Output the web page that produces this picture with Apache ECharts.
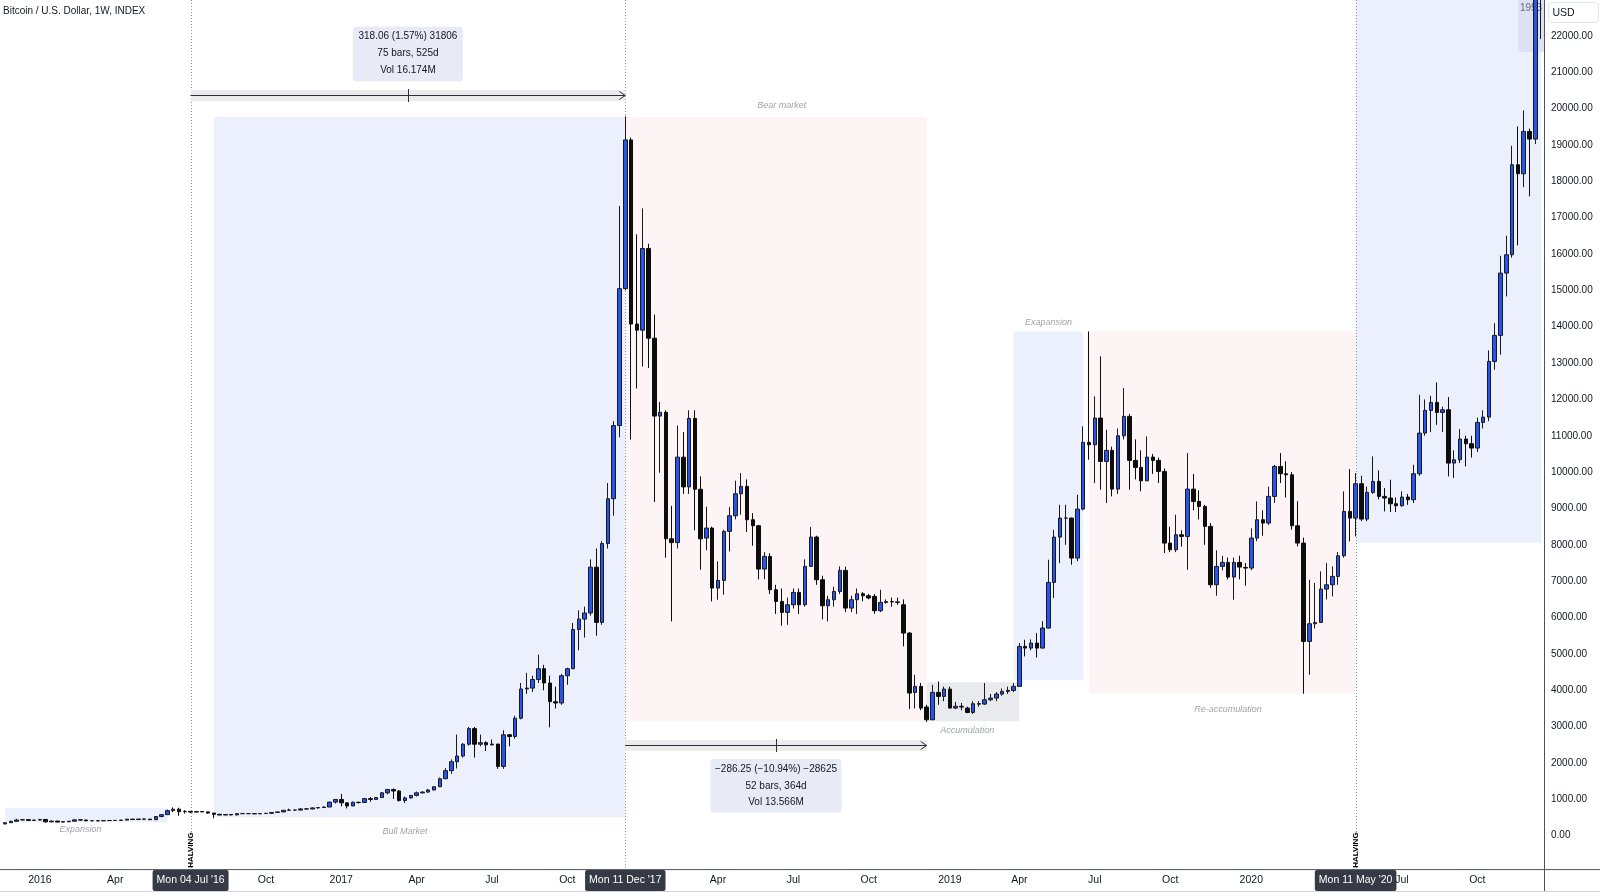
<!DOCTYPE html>
<html><head><meta charset="utf-8">
<script src="https://cdn.jsdelivr.net/npm/echarts@6/dist/echarts.min.js"></script>
<style>html,body{margin:0;padding:0;background:#fff}#c{width:1600px;height:892px}</style>
</head><body><div id="c"></div>
<script>
// ---- DATA: weekly candles [open, close, low, high], first week Mon 23 Nov 2015 ----
const firstWeek = '2015-11-23';
const ohlc2015 = [[324,358,316,366],[358,395,355,418],[395,434,390,465],[434,442,427,466],[442,422,415,457],[422,431,418,437]];
const ohlc2016 = [[431,448,425,458],[448,382,360,450],[382,402,370,420],[402,376,365,412],[376,386,365,392],[386,400,370,405],[400,437,398,441],[437,432,410,439],[432,412,400,440],[412,412,405,420],[412,410,407,418],[410,416,405,420],[416,420,410,425],[420,422,415,425],[422,430,420,433],[430,456,428,460],[456,446,440,466],[446,459,441,462],[459,457,445,462],[457,441,437,458],[441,528,440,535],[528,580,510,590],[580,690,570,720],[690,730,650,780],[730,660,550,770],[660,670,610,705],[670,650,620,680],[650,665,640,680],[665,655,650,678],[655,624,600,660],[624,590,480,626],[590,570,565,600],[570,583,565,590],[583,573,565,585],[573,608,568,612],[608,608,600,627],[608,609,600,612],[609,603,592,611],[603,610,600,614],[610,617,605,620],[617,640,615,645],[640,655,628,660],[655,700,650,705],[700,705,690,745],[705,705,700,718],[705,738,700,760],[738,736,726,746],[736,765,730,780],[765,775,750,782],[775,790,770,800],[790,925,790,935],[925,998,885,1000]];
const ohlc2017 = [[998,905,810,1150],[905,820,750,910],[820,920,815,940],[920,915,880,930],[915,1020,915,1040],[1020,1000,935,1065],[1000,1050,990,1065],[1050,1180,1050,1200],[1180,1270,1140,1290],[1270,1230,1010,1300],[1230,970,940,1260],[970,1040,900,1080],[1040,1110,1020,1120],[1110,1180,1080,1215],[1180,1200,1160,1220],[1200,1257,1190,1290],[1257,1348,1250,1360],[1348,1568,1340,1600],[1568,1790,1560,1860],[1790,2035,1700,2100],[2035,2192,1850,2780],[2192,2517,2150,2550],[2517,2946,2480,2990],[2946,2517,2150,2990],[2517,2560,2460,2780],[2560,2500,2330,2600],[2500,2520,2480,2650],[2520,1907,1840,2530],[1907,2776,1840,2900],[2776,2730,2460,2800],[2730,3231,2670,3300],[3231,4036,3200,4200],[4036,4060,3900,4480],[4060,4296,3950,4400],[4296,4594,4200,4980],[4594,4200,4000,4700],[4200,3686,2980,4400],[3686,3650,3500,4100],[3650,4400,3600,4450],[4400,4594,4150,4620],[4594,5672,4580,5850],[5672,5958,5100,6200],[5958,6126,5450,6300],[6126,7386,6050,7600],[7386,5867,5500,7900],[5867,8035,5800,8100],[8035,9269,7900,9700],[9269,11281,8800,11400],[11281,15046,10957,17319],[15046,19136,15000,19786],[19136,14072,10892,19200],[14072,13904,12300,16540]];
const ohlc2018 = [[13904,16150,12904,17253],[16150,13683,12865,16280],[13683,11541,9178,14332],[11541,11645,9983,11930],[11645,8165,7645,11700],[8165,8061,5893,9074],[8061,10411,7900,11281],[10411,9593,9400,11100],[9593,11476,9400,11700],[11476,9528,8400,11700],[9528,8165,7315,9882],[8186,8461,7850,9050],[8461,6811,6444,8500],[6811,7022,6490,7544],[7022,8369,6628,8415],[8369,8800,7819,9038],[8800,9405,8700,9763],[9405,9607,8827,9973],[9607,8690,8350,9800],[8690,8525,7975,8873],[8525,7333,7050,8550],[7333,7682,7050,7800],[7682,6765,6650,7770],[6765,6444,6100,6900],[6444,6142,5775,6800],[6142,6352,5800,6550],[6352,6692,6250,6800],[6692,6352,6100,6800],[6352,7407,6300,7600],[7407,8213,7400,8488],[8213,7040,6900,8250],[7040,6325,5950,7150],[6325,6490,5894,6600],[6490,6719,6300,6850],[6719,7297,6650,7407],[7297,6261,6150,7400],[6261,6490,6150,6600],[6490,6655,6100,6800],[6655,6600,6450,6700],[6600,6540,6500,6650],[6582,6187,6100,6650],[6187,6417,6150,6765],[6417,6440,6380,6500],[6440,6430,6300,6550],[6430,6417,6350,6550],[6352,5573,5207,6500],[5573,3923,3483,5600],[3942,4107,3500,4427],[4107,3511,3450,4200],[3538,3190,3130,3600],[3190,3942,3180,4152],[3942,3832,3600,4244]];
const ohlc2019 = [[3832,4033,3700,4100],[4033,3511,3500,4100],[3511,3560,3480,3680],[3560,3540,3450,3650],[3511,3391,3370,3550],[3391,3630,3350,3700],[3630,3620,3550,3700],[3620,3740,3600,4198],[3740,3786,3700,3900],[3786,3896,3700,3950],[3896,3969,3850,4050],[3969,3996,3900,4100],[3996,4107,3950,4200],[4107,5207,4100,5300],[5207,5161,4932,5390],[5161,5298,5100,5400],[5298,5161,4900,5573],[5161,5711,5150,5900],[5711,6967,5700,7590],[6967,8213,6536,8415],[8213,8736,7498,9102],[8736,8736,8000,9102],[8736,7636,7452,8750],[7636,8983,7550,9378],[8983,10817,8950,11257],[10817,10752,10340,13869],[10752,11486,9698,12082],[11486,10294,9515,13182],[10294,10597,9148,11165],[10597,9533,9332,10700],[9533,11000,9400,11200],[11000,11532,10900,12311],[11532,10322,9515,11600],[10322,10129,9800,10900],[10129,9762,9470,10600],[9762,10413,9750,10982],[10413,10322,9950,10500],[10322,10019,9700,10400],[10019,8048,7773,10100],[8048,7865,7800,8500],[7865,8277,7800,8827],[8277,8232,7950,8400],[8232,9533,7315,10523],[9533,9194,8950,9950],[9194,9057,8700,9500],[9057,8507,8000,9100],[8507,6902,6811,8600],[6902,7407,6600,7850],[7407,7517,7300,7700],[7517,7113,7050,7650],[7113,7517,6490,7650],[7517,7388,7050,7700]];
const ohlc2020 = [[7379,7361,6875,7500],[7361,8186,7300,8450],[8186,8690,8100,9194],[8690,8598,8250,8950],[8598,9332,8550,9600],[9332,10157,9150,10200],[10157,9955,9700,10523],[9955,9927,9300,10300],[9927,8525,8415,10000],[8525,8048,7956,9200],[8048,5344,3905,8200],[5344,5830,4427,7040],[5830,5866,5700,6950],[5866,6783,5850,7270],[6783,6902,6500,7498],[6902,7132,6580,7407],[7132,7700,6900,7800],[7700,8919,7650,9469],[8919,8736,8094,10083],[8736,9680,8232,9973],[9680,8708,8650,9900],[8708,9442,8650,9600],[9442,9744,9400,10432],[9744,9332,9250,10047],[9332,9286,8919,9561],[9286,9130,8900,9790],[9130,9075,8900,9300],[9075,9313,9050,9470],[9313,9240,9100,9400],[9240,9955,9150,10202],[9955,11073,9900,12127],[11073,11697,11000,12000],[11697,11917,11100,12100],[11917,11642,11300,12467],[11642,11715,11100,11800],[11715,10248,9882,12063],[10248,10340,9836,10600],[10340,10908,10250,11183],[10908,10780,10157,11000],[10780,10661,10400,11000],[10661,11366,10550,11500],[11366,11513,11200,11700],[11513,13044,11400,13347],[13044,13759,12815,14098],[13759,15473,13228,15950],[15473,15977,14832,16500],[15977,18452,15900,18975],[18452,18205,16234,19507],[18205,19369,17838,19947],[19369,19158,17582,19450],[19158,23800,19020,24300],[23800,26500,21909,28400]];

// x-axis tick labels
const xTickDates  = ['2016-01-04','2016-04-04','2016-07-04','2016-10-03','2017-01-02','2017-04-03','2017-07-03','2017-10-02','2017-12-11','2018-04-02','2018-07-02','2018-10-01','2019-01-07','2019-04-01','2019-07-01','2019-09-30','2020-01-06','2020-05-11','2020-07-06','2020-10-05'];
const xTickLabels = ['2016','Apr',"Mon 04 Jul '16",'Oct','2017','Apr','Jul','Oct',"Mon 11 Dec '17",'Apr','Jul','Oct','2019','Apr','Jul','Oct','2020',"Mon 11 May '20",'Jul','Oct'];
const xTickHighlight = ["Mon 04 Jul '16","Mon 11 Dec '17","Mon 11 May '20"];

// shaded zones: [from week, to week, low price, high price, kind]
const zoneFrom  = ['2015-11-23','2016-08-01','2017-12-11','2018-12-10','2019-03-25','2019-06-24','2020-05-11'];
const zoneTo    = ['2016-06-06','2017-12-11','2018-12-10','2019-04-01','2019-06-17','2020-05-11','2020-12-21'];
const zoneLow   = [371, 511, 3151, 3151, 4273, 3908, 8057];
const zoneHigh  = [770, 19764, 19764, 4218, 13871, 13871, 23000];
const zoneKind  = ['bull','bull','bear','acc','bull','bear','bull'];

// zone captions
const capText  = ['Expansion','Bull Market','Bear market','Accumulation','Exapansion','Re-accumulation'];
const capWeek  = ['2016-02-22','2017-03-20','2018-06-18','2019-01-28','2019-05-06','2019-12-09'];
const capPrice = [165, 121, 20075, 2899, 14124, 3460];

// measurement tools
const measTopFrom = '2016-07-04', measTopTo = '2017-12-11', measTopPrice = 20378;
const measTopText = ['318.06 (1.57%) 31806', '75 bars, 525d', 'Vol 16.174M'];
const measBotFrom = '2017-12-11', measBotTo = '2018-12-10', measBotPrice = 2483;
const measBotText = ['\u2212286.25 (\u221210.94%) \u221228625', '52 bars, 364d', 'Vol 13.566M'];

// halving / event vertical lines
const eventWeeks = ['2016-07-04', '2017-12-11', '2020-05-11'];
const halvingWeeks = ['2016-07-04', '2020-05-11'];

// ---- build ----
const ohlc = [].concat(ohlc2015, ohlc2016, ohlc2017, ohlc2018, ohlc2019, ohlc2020);
const dates = [];
const t0 = Date.parse(firstWeek + 'T00:00:00Z');
for (let i = 0; i < ohlc.length; i++) dates.push(new Date(t0 + i * 7 * 864e5).toISOString().slice(0, 10));

const FONT = '"Liberation Sans", Arial, sans-serif';
const zoneColor = {bull: '#eceffc', bear: '#fdf5f5', acc: '#e9eaed'};
const tickMap = {};
xTickDates.forEach((d, i) => tickMap[d] = xTickLabels[i]);

const markAreaData = zoneFrom.map((f, i) => [
  {xAxis: f, yAxis: zoneLow[i], itemStyle: {color: zoneColor[zoneKind[i]]}},
  {xAxis: zoneTo[i], yAxis: zoneHigh[i]}
]);

const chart = echarts.init(document.getElementById('c'), null, {renderer: 'canvas'});
chart.setOption({
  animation: false,
  backgroundColor: '#ffffff',
  textStyle: {fontFamily: FONT},
  grid: {left: 2.2, top: -0.6, width: 1541.8, height: 872.7, containLabel: false, outerBoundsMode: 'none'},
  xAxis: {
    type: 'category', data: dates, boundaryGap: true, offset: -3,
    axisLine: {show: false}, axisTick: {show: false}, splitLine: {show: false},
    axisLabel: {
      margin: 6, hideOverlap: false,
      interval: (idx, val) => tickMap[val] !== undefined,
      formatter: (val) => {
        const t = tickMap[val];
        if (t === undefined) return '';
        return xTickHighlight.includes(t) ? '{h|' + t + '}' : '{n|' + t + '}';
      },
      rich: {
        n: {color: '#131722', fontSize: 10.5, fontFamily: FONT, lineHeight: 11, padding: [5, 3, 5, 3]},
        h: {color: '#ffffff', fontSize: 10.5, fontFamily: FONT, lineHeight: 11, padding: [5, 4, 5, 4], backgroundColor: '#363a45', borderRadius: 2}
      }
    }
  },
  yAxis: {
    type: 'value', position: 'right', min: -1000, max: 23000, interval: 1000,
    axisLine: {show: false}, axisTick: {show: false}, splitLine: {show: false},
    axisLabel: {margin: 7, color: '#131722', fontSize: 10, fontFamily: FONT,
      formatter: v => (v < 0 || v > 22000) ? '' : v.toFixed(2)}
  },
  series: [{
    type: 'candlestick', data: ohlc, z: 5, barWidth: 4, clip: true,
    itemStyle: {color: '#2554ee', color0: '#0d0d0d', borderColor: '#1a1a1a', borderColor0: '#0d0d0d', borderWidth: 1},
    markArea: {silent: true, z: 1, data: markAreaData}
  }]
});

// ---- annotations positioned through the chart's own scales ----
const P = (d, v) => chart.convertToPixel({gridIndex: 0}, [d, v]);
const g = [];
const axisY = P(dates[0], -1000)[1] - 3;
// vertical event lines
eventWeeks.forEach(d => {
  const x = Math.round(P(d, 0)[0]) + 0.5;
  g.push({type: 'line', z: 3, silent: true, shape: {x1: x, y1: 0, x2: x, y2: axisY},
    style: {stroke: '#9598a1', lineWidth: 1, lineDash: [1, 2]}});
});
// halving labels
halvingWeeks.forEach(d => {
  const x = P(d, 0)[0];
  g.push({type: 'text', z: 12, silent: true, x: x, y: axisY - 19, rotation: Math.PI / 2,
    style: {text: 'HALVING', fill: '#000', font: 'bold 8px ' + FONT, align: 'center', verticalAlign: 'middle'}});
});
// zone captions
capText.forEach((t, i) => {
  const p = P(capWeek[i], capPrice[i]);
  g.push({type: 'text', z: 12, silent: true, x: p[0], y: p[1],
    style: {text: t, fill: '#a0a3ab', font: 'italic 9px ' + FONT, align: 'center', verticalAlign: 'middle'}});
});
// measurement tool
function measure(from, to, price, lines, above, boxW, boxH, gap) {
  const a = P(from, price), b = P(to, price);
  const y = Math.round(a[1]) + 0.5, x1 = a[0], x2 = b[0], xm = (x1 + x2) / 2;
  g.push({type: 'rect', z: 8, silent: true, shape: {x: x1, y: y - 5.5, width: x2 - x1, height: 11}, style: {fill: '#ececec'}});
  g.push({type: 'line', z: 9, silent: true, shape: {x1: x1, y1: y, x2: x2, y2: y}, style: {stroke: '#2a2e39', lineWidth: 1}});
  g.push({type: 'polyline', z: 9, silent: true, shape: {points: [[x2 - 6, y - 4], [x2, y], [x2 - 6, y + 4]]}, style: {stroke: '#2a2e39', lineWidth: 1, fill: null}});
  g.push({type: 'line', z: 9, silent: true, shape: {x1: Math.round(xm) + 0.5, y1: y - 6.5, x2: Math.round(xm) + 0.5, y2: y + 6.5}, style: {stroke: '#2a2e39', lineWidth: 1}});
  const top = above ? y - gap - boxH : y + gap;
  g.push({type: 'rect', z: 9, silent: true, shape: {x: xm - boxW / 2, y: top, width: boxW, height: boxH, r: 3}, style: {fill: '#e8eaf6'}});
  lines.forEach((t, k) => {
    g.push({type: 'text', z: 10, silent: true, x: xm, y: top + 10 + k * 16.8,
      style: {text: t, fill: '#131722', font: '10px ' + FONT, align: 'center', verticalAlign: 'middle'}});
  });
}
measure(measTopFrom, measTopTo, measTopPrice, measTopText, true, 110, 54.5, 14.3);
measure(measBotFrom, measBotTo, measBotPrice, measBotText, false, 131, 53.4, 13.6);
// axes frame
g.push({type: 'line', z: 20, silent: true, shape: {x1: 0, y1: axisY + 0.5, x2: 1600, y2: axisY + 0.5}, style: {stroke: '#50535e', lineWidth: 1}});
g.push({type: 'line', z: 20, silent: true, shape: {x1: 1544.5, y1: 0, x2: 1544.5, y2: 892}, style: {stroke: '#50535e', lineWidth: 1}});
g.push({type: 'line', z: 20, silent: true, shape: {x1: 0, y1: 891.5, x2: 1600, y2: 891.5}, style: {stroke: '#d1d4dc', lineWidth: 1}});
// top-right price tag remnant (behind candles) and currency box
g.push({type: 'rect', z: 2, silent: true, shape: {x: 1518, y: 0, width: 26.5, height: 52, r: [0, 0, 3, 3]}, style: {fill: '#dde1f4'}});
g.push({type: 'text', z: 2, silent: true, x: 1531, y: 8, style: {text: '1953', fill: '#6a6d78', font: '10px ' + FONT, align: 'center', verticalAlign: 'middle'}});
g.push({type: 'rect', z: 21, silent: true, shape: {x: 1548.5, y: 2.5, width: 50, height: 20, r: 4}, style: {fill: '#fff', stroke: '#e0e3eb', lineWidth: 1}});
g.push({type: 'text', z: 22, silent: true, x: 1563.5, y: 13, style: {text: 'USD', fill: '#131722', font: '10.5px ' + FONT, align: 'center', verticalAlign: 'middle'}});
// title
g.push({type: 'text', z: 22, silent: true, x: 3, y: 11.5, style: {text: 'Bitcoin / U.S. Dollar, 1W, INDEX', fill: '#131722', font: '10px ' + FONT, align: 'left', verticalAlign: 'middle'}});

chart.setOption({graphic: {elements: g}});
</script>
</body></html>
